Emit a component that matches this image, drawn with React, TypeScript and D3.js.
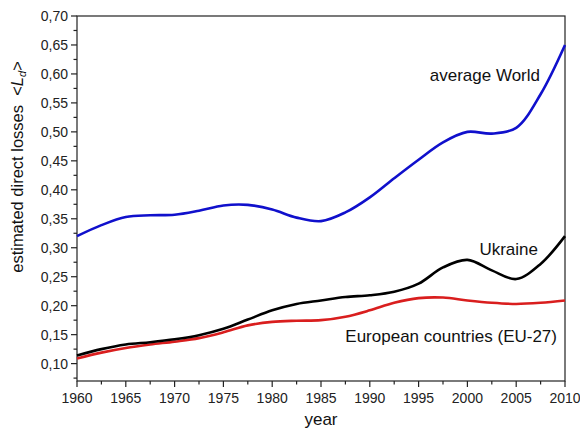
import React from "react";
import * as d3 from "d3";

const years = [1960, 1962.5, 1965, 1967.5, 1970, 1972.5, 1975, 1977.5, 1980, 1982.5, 1985, 1987.5, 1990, 1992.5, 1995, 1997.5, 2000, 2002.5, 2005, 2007.5, 2010];
const world = [0.320, 0.339, 0.353, 0.356, 0.357, 0.364, 0.373, 0.374, 0.366, 0.352, 0.346, 0.361, 0.387, 0.420, 0.452, 0.482, 0.500, 0.497, 0.507, 0.565, 0.650];
const ukraine = [0.114, 0.125, 0.133, 0.137, 0.142, 0.149, 0.160, 0.176, 0.192, 0.203, 0.209, 0.215, 0.218, 0.224, 0.238, 0.266, 0.279, 0.261, 0.246, 0.272, 0.320];
const eu = [0.109, 0.119, 0.127, 0.133, 0.138, 0.144, 0.154, 0.166, 0.172, 0.174, 0.175, 0.181, 0.192, 0.205, 0.213, 0.214, 0.209, 0.205, 0.203, 0.205, 0.209];
const xTicks = [1960, 1965, 1970, 1975, 1980, 1985, 1990, 1995, 2000, 2005, 2010];
const yTicks = [0.10, 0.15, 0.20, 0.25, 0.30, 0.35, 0.40, 0.45, 0.50, 0.55, 0.60, 0.65, 0.70];

export default function App() {
  const W = 580, H = 432;
  const left = 77, right = 565, top = 16, bottom = 381;
  const x = d3.scaleLinear().domain([1960, 2010]).range([left, right]);
  const y = d3.scaleLinear().domain([0.07, 0.70]).range([bottom, top]);
  const line = (vals: number[]) =>
    d3.line<number>().x((_, i) => x(years[i])).y((v) => y(v)).curve(d3.curveCatmullRom.alpha(0.5))(vals) || "";
  const xMinor = d3.range(1962.5, 2010, 5);
  const yMinor = d3.range(0.075, 0.70, 0.05);
  const font = "'Liberation Sans', Arial, sans-serif";
  const axisColor = "#222";
  return (
    <svg width={W} height={H} style={{ position: "absolute", left: 0, top: 0, background: "#fff" }} fontFamily={font}>
      <rect x={0} y={0} width={W} height={H} fill="#fff" />
      <rect x={left} y={top} width={right - left} height={bottom - top} fill="none" stroke={axisColor} strokeWidth={1.2} />
      {yTicks.map((t) => (
        <g key={"y" + t}>
          <line x1={left - 6} x2={left} y1={y(t)} y2={y(t)} stroke={axisColor} strokeWidth={1.2} />
          <text x={left - 9} y={y(t)} dy="0.36em" textAnchor="end" fontSize={14} fill="#222">
            {t.toFixed(2).replace(".", ",")}
          </text>
        </g>
      ))}
      {yMinor.map((t) => (
        <line key={"ym" + t} x1={left - 3.5} x2={left} y1={y(t)} y2={y(t)} stroke={axisColor} strokeWidth={1.2} />
      ))}
      {xTicks.map((t) => (
        <g key={"x" + t}>
          <line x1={x(t)} x2={x(t)} y1={bottom} y2={bottom + 6} stroke={axisColor} strokeWidth={1.2} />
          <text x={x(t)} y={bottom + 22} textAnchor="middle" fontSize={14} fill="#222">
            {t}
          </text>
        </g>
      ))}
      {xMinor.map((t) => (
        <line key={"xm" + t} x1={x(t)} x2={x(t)} y1={bottom} y2={bottom + 3.5} stroke={axisColor} strokeWidth={1.2} />
      ))}
      <path d={line(eu)} fill="none" stroke="#d91e1e" strokeWidth={2.6} />
      <path d={line(ukraine)} fill="none" stroke="#000" strokeWidth={2.6} />
      <path d={line(world)} fill="none" stroke="#1010cc" strokeWidth={2.6} />
      <text x={540} y={81} textAnchor="end" fontSize={17} fill="#111">average World</text>
      <text x={538} y={255} textAnchor="end" fontSize={17} fill="#111">Ukraine</text>
      <text x={557} y={342} textAnchor="end" fontSize={17} fill="#111">European countries (EU-27)</text>
      <text x={(left + right) / 2} y={425} textAnchor="middle" fontSize={17} fill="#111">year</text>
      <text transform={`translate(23, 167) rotate(-90)`} textAnchor="middle" fontSize={16.5} fill="#111">
        estimated direct losses {"\u00A0<"}
        <tspan fontStyle="italic">L</tspan>
        <tspan fontStyle="italic" fontSize={11} dy={3}>d</tspan>
        <tspan dy={-3}>{">"}</tspan>
      </text>
    </svg>
  );
}
